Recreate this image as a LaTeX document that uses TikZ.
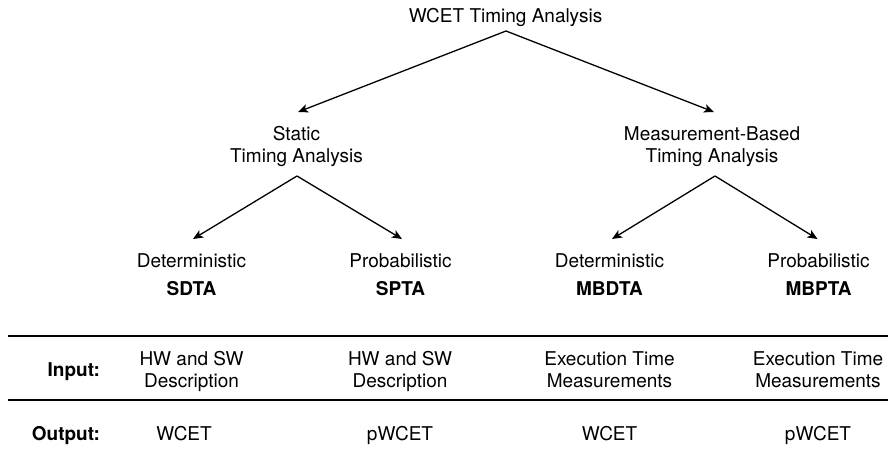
\documentclass[tikz,border=0pt]{standalone}
\usepackage{fontspec}
\setmainfont{TeX Gyre Heros}
\usetikzlibrary{arrows.meta}
\begin{document}
\begin{tikzpicture}[x=1pt,y=-1pt,
  lbl/.style={inner sep=0pt, outer sep=0pt, align=center, font=\fontsize{19}{22}\selectfont},
  arr/.style={-{Stealth[length=10pt,width=8.5pt,inset=2.5pt]}, line width=1.3pt},
  tabrule/.style={line width=1.8pt}]
\useasboundingbox (0,0) rectangle (888,463);

% taxonomy tree
\node[lbl] (root) at (505.5,17.6) {\strut WCET Timing Analysis};
\node[lbl] (sta)  at (296.5,146.6) {\strut Static\\\strut Timing Analysis};
\node[lbl] (mba)  at (712,146.6) {\strut Measurement-Based\\\strut Timing Analysis};

\node[lbl] (sdta)  at (191.5,276.6) {\strut Deterministic\\[6pt]\strut\textbf{SDTA}};
\node[lbl] (spta)  at (400.5,276.6) {\strut Probabilistic\\[6pt]\strut\textbf{SPTA}};
\node[lbl] (mbdta) at (609.5,276.6) {\strut Deterministic\\[6pt]\strut\textbf{MBDTA}};
\node[lbl] (mbpta) at (818.5,276.6) {\strut Probabilistic\\[6pt]\strut\textbf{MBPTA}};

\draw[arr] ([xshift=0.5pt,yshift=-2.4pt]root.south) -- ([xshift=1.5pt,yshift=12.6pt]sta.north);
\draw[arr] ([xshift=0.5pt,yshift=-2.4pt]root.south) -- ([xshift=2pt,yshift=12.6pt]mba.north);
\draw[arr] ([xshift=0.5pt,yshift=-7.4pt]sta.south) -- ([xshift=1.5pt,yshift=12.6pt]sdta.north);
\draw[arr] ([xshift=0.5pt,yshift=-7.4pt]sta.south) -- ([xshift=1.5pt,yshift=12.6pt]spta.north);
\draw[arr] ([xshift=3pt,yshift=-7.4pt]mba.south) -- ([xshift=2.5pt,yshift=12.6pt]mbdta.north);
\draw[arr] ([xshift=3pt,yshift=-7.4pt]mba.south) -- ([xshift=-1pt,yshift=12.6pt]mbpta.north);

% input / output table
\draw[tabrule] (8,336) -- (888,336);
\draw[tabrule] (8,400) -- (888,400);

\node[lbl, anchor=east] (inlbl)  at (100,372) {\strut\textbf{Input:}};
\node[lbl, anchor=east] (outlbl) at (100,435.6) {\strut\textbf{Output:}};

\node[lbl] (in1) at (191.5,371.6) {\strut HW and SW\\\strut Description};
\node[lbl] (in2) at (400,371.6) {\strut HW and SW\\\strut Description};
\node[lbl] (in3) at (609.5,371.6) {\strut Execution Time\\\strut Measurements};
\node[lbl] (in4) at (818,371.6) {\strut Execution Time\\\strut Measurements};

\node[lbl] (out1) at (184,435.6) {\strut WCET};
\node[lbl] (out2) at (400,435.6) {\strut pWCET};
\node[lbl] (out3) at (609.5,435.6) {\strut WCET};
\node[lbl] (out4) at (818,435.6) {\strut pWCET};
\end{tikzpicture}
\end{document}
